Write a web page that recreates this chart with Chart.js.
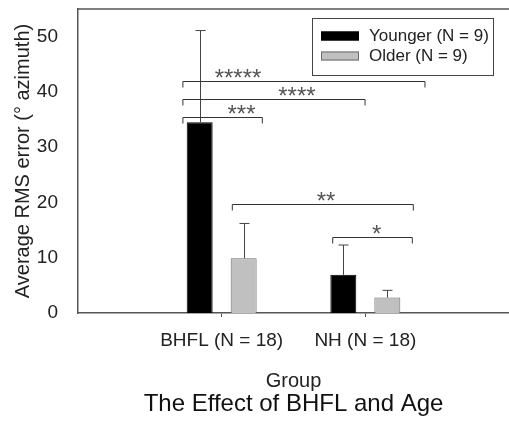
<!DOCTYPE html>
<html>
<head>
<meta charset="utf-8">
<script src="https://cdn.jsdelivr.net/npm/chart.js@4/dist/chart.umd.min.js"></script>
<style>
  html, body { margin: 0; padding: 0; background: #fff; }
  #wrap { width: 509px; height: 421px; }
</style>
</head>
<body>
<div id="wrap"><canvas id="chart"></canvas></div>
<script>
// ---- data ----
const groups      = ['BHFL (N = 18)', 'NH (N = 18)'];
const seriesNames = ['Younger (N = 9)', 'Older (N = 9)'];
const younger     = [34.5, 6.9];
const older       = [9.9, 2.8];
const youngerSD   = [16.6, 5.4];
const olderSD     = [6.3, 1.3];
const yTicks      = [0, 10, 20, 30, 40, 50];

// significance brackets (from / to / at are in category units of the padded axis)
const brackets = [
  { from: 0.73,  to: 2.415, y: 42.0,  stars: '*****', at: 1.114 },
  { from: 0.73,  to: 1.998, y: 38.72, stars: '****',  at: 1.524 },
  { from: 0.73,  to: 1.283, y: 35.52, stars: '***',   at: 1.138 },
  { from: 1.074, to: 2.334, y: 19.67, stars: '**',    at: 1.726 },
  { from: 1.773, to: 2.327, y: 13.7,  stars: '*',     at: 2.079 }
];

// empty slot on each side, like the original axis
const xLabels = ['', ...groups, ''];
const pad = arr => [null, ...arr, null];

const FONT = 'Arial, "Liberation Sans", sans-serif';
const AXIS = '#555';

function line(ctx, x1, y1, x2, y2) {
  ctx.beginPath();
  ctx.moveTo(x1, y1);
  ctx.lineTo(x2, y2);
  ctx.stroke();
}

function noPad(s) {
  s.paddingLeft = 0;
  s.paddingRight = 0;
  s.paddingTop = 0;
  s.paddingBottom = 0;
}

const extras = {
  id: 'extras',
  afterDatasetsDraw(chart) {
    const { ctx, chartArea: a, scales: { x, y } } = chart;
    ctx.save();

    // top frame line
    ctx.strokeStyle = AXIS;
    ctx.lineWidth = 1.5;
    line(ctx, a.left, a.top, a.right, a.top);

    // upper error bars
    ctx.strokeStyle = '#444';
    ctx.lineWidth = 1;
    chart.data.datasets.forEach((ds, di) => {
      chart.getDatasetMeta(di).data.forEach((bar, i) => {
        const v = ds.data[i];
        if (v == null) return;
        const top = y.getPixelForValue(v + ds.sd[i]);
        const bx = Math.round(bar.x) + 0.5;
        line(ctx, bx, bar.y, bx, top);
        line(ctx, bx - 5, top, bx + 5, top);
      });
    });

    // brackets with stars
    ctx.strokeStyle = '#333';
    ctx.fillStyle = '#555';
    ctx.font = '24px ' + FONT;
    ctx.textAlign = 'center';
    ctx.textBaseline = 'middle';
    brackets.forEach(b => {
      const x1 = x.getPixelForValue(b.from);
      const x2 = x.getPixelForValue(b.to);
      const yy = Math.round(y.getPixelForValue(b.y)) + 0.5;
      ctx.beginPath();
      ctx.moveTo(x1, yy + 6);
      ctx.lineTo(x1, yy);
      ctx.lineTo(x2, yy);
      ctx.lineTo(x2, yy + 6);
      ctx.stroke();
      ctx.fillText(b.stars, x.getPixelForValue(b.at), yy - 2);
    });

    // legend box
    const lw = 181, lh = 57;
    const lx = a.right - 16 - lw, ly = a.top + 9;
    ctx.strokeStyle = '#444';
    ctx.lineWidth = 1;
    ctx.strokeRect(Math.round(lx) + 0.5, Math.round(ly) + 0.5, lw, lh);
    ctx.font = '17px ' + FONT;
    ctx.textAlign = 'left';
    chart.data.datasets.forEach((ds, di) => {
      const cy = ly + 18 + di * 20;
      ctx.fillStyle = ds.backgroundColor;
      ctx.fillRect(lx + 9, cy - 4.5, 38, 9);
      ctx.strokeStyle = ds.borderColor;
      ctx.strokeRect(lx + 9.5, cy - 4, 37, 8);
      ctx.fillStyle = '#222';
      ctx.fillText(ds.label, lx + 57, cy);
    });

    ctx.restore();
  }
};

new Chart(document.getElementById('chart'), {
  type: 'bar',
  data: {
    labels: xLabels,
    datasets: [
      { label: seriesNames[0], data: pad(younger), sd: pad(youngerSD),
        backgroundColor: '#000', borderColor: '#000', borderWidth: 1 },
      { label: seriesNames[1], data: pad(older), sd: pad(olderSD),
        backgroundColor: '#c0c0c0', borderColor: '#6a6a6a', borderWidth: 1 }
    ]
  },
  options: {
    responsive: true,
    maintainAspectRatio: false,
    animation: false,
    categoryPercentage: 0.6125,
    barPercentage: 0.59,
    layout: { padding: { top: 9, right: 0, left: 0, bottom: 0 } },
    plugins: {
      legend: { display: false },
      title: { display: false },
      tooltip: { enabled: false }
    },
    scales: {
      x: {
        weight: 0,
        offset: false,
        grid: {
          display: true, drawOnChartArea: false, offset: false, tickLength: 4,
          tickColor: c => xLabels[c.index] ? AXIS : 'rgba(0,0,0,0)'
        },
        border: { display: true, color: AXIS, width: 1.5 },
        ticks: { color: '#222', padding: 12, maxRotation: 0, minRotation: 0, autoSkip: false,
                 font: { family: FONT, size: 19 } },
        title: { display: true, text: 'Group', color: '#222',
                 font: { family: FONT, size: 20 }, padding: { top: 0, bottom: 0 } },
        afterFit: s => { s.height = 80; noPad(s); }
      },
      x2: {
        type: 'category',
        position: 'bottom',
        weight: 1,
        offset: false,
        grid: { display: false },
        border: { display: false },
        ticks: { display: false },
        title: { display: true, text: 'The Effect of BHFL and Age', color: '#111',
                 font: { family: FONT, size: 24 }, padding: { top: 0, bottom: 2 } },
        afterFit: s => { s.height = 28; noPad(s); }
      },
      y: {
        min: 0,
        max: 55,
        grid: { display: false },
        border: { display: true, color: AXIS, width: 1.5 },
        afterBuildTicks: s => { s.ticks = yTicks.map(v => ({ value: v })); },
        ticks: { color: '#222', padding: 12, font: { family: FONT, size: 19 } },
        title: { display: true, text: 'Average RMS error (° azimuth)', color: '#222',
                 font: { family: FONT, size: 20 }, padding: { top: 11, bottom: 0 } },
        afterFit: s => { s.width = 78; noPad(s); }
      }
    }
  },
  plugins: [extras]
});
</script>
</body>
</html>
